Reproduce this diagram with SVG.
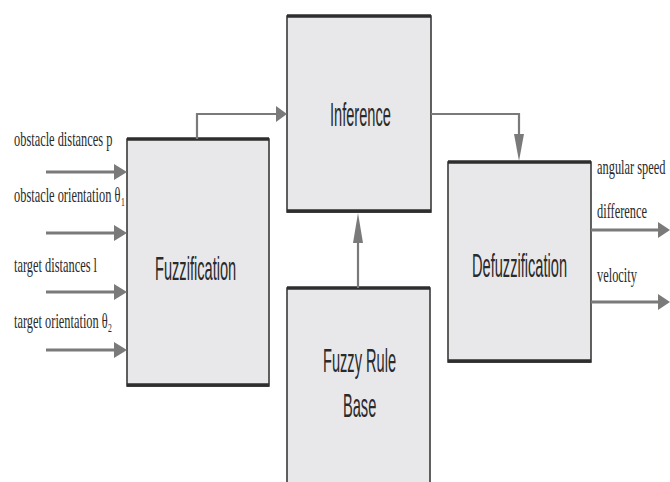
<svg xmlns="http://www.w3.org/2000/svg" width="670" height="482" viewBox="0 0 670 482">
<defs>
<style>
.box{fill:#e8e8ea;stroke:#3a3a3a;stroke-width:1.6}
.edge{stroke:#2e2e2e;stroke-width:3.5}
.lbl{font-family:"Liberation Sans",Arial,sans-serif;font-size:34px;fill:#2a2a2a}
.io{font-family:"Liberation Serif","Times New Roman",serif;font-size:21px;fill:#2a2a2a}
.sub{font-family:"Liberation Serif","Times New Roman",serif;font-size:13px;fill:#2a2a2a}
.wire{stroke:#7a7a7a;fill:none}
.head{fill:#7a7a7a}
</style>
</defs>
<rect width="670" height="482" fill="#ffffff"/>
<g id="fuzzification">
<rect class="box" x="127" y="139" width="142" height="247"/>
<line class="edge" x1="127" y1="139" x2="269" y2="139"/>
<line class="edge" x1="127" y1="385" x2="269" y2="385"/>
<text class="lbl" transform="translate(155,280) scale(0.43,1)">Fuzzification</text>
</g>
<g id="inference">
<rect class="box" x="287" y="16" width="144" height="196"/>
<line class="edge" x1="287" y1="16" x2="431" y2="16"/>
<line class="edge" x1="287" y1="211" x2="431" y2="211"/>
<text class="lbl" transform="translate(330,126) scale(0.43,1)">Inference</text>
</g>
<g id="rulebase">
<rect class="box" x="287" y="288" width="143" height="200"/>
<line class="edge" x1="287" y1="288" x2="430" y2="288"/>
<text class="lbl" transform="translate(323,372) scale(0.43,1)">Fuzzy Rule</text>
<text class="lbl" transform="translate(343,417) scale(0.43,1)">Base</text>
</g>
<g id="defuzzification">
<rect class="box" x="448" y="162" width="143" height="200"/>
<line class="edge" x1="448" y1="162" x2="591" y2="162"/>
<line class="edge" x1="448" y1="361" x2="591" y2="361"/>
<text class="lbl" transform="translate(472,277) scale(0.43,1)">Defuzzification</text>
</g>
<g id="connectors">
<g stroke-width="3">
<line class="wire" x1="46" y1="172" x2="116" y2="172"/>
<line class="wire" x1="46" y1="233" x2="116" y2="233"/>
<line class="wire" x1="46" y1="292" x2="116" y2="292"/>
<line class="wire" x1="46" y1="350" x2="116" y2="350"/>
<line class="wire" x1="591" y1="230" x2="660" y2="230"/>
<line class="wire" x1="591" y1="302" x2="660" y2="302"/>
</g>
<polygon class="head" points="114,164 127,172 114,180"/>
<polygon class="head" points="114,225 127,233 114,241"/>
<polygon class="head" points="114,284 127,292 114,300"/>
<polygon class="head" points="114,342 127,350 114,358"/>
<polygon class="head" points="658,222 670,230 658,238"/>
<polygon class="head" points="658,294 670,302 658,310"/>
<polyline class="wire" stroke-width="2.2" points="197,139 197,114 278,114"/>
<polygon class="head" points="276,106 287,114 276,122"/>
<polyline class="wire" stroke-width="2.2" points="431,114 519,114 519,136"/>
<polygon class="head" points="514,134 519,161 524,134"/>
<line class="wire" stroke-width="2.2" x1="358" y1="288" x2="358" y2="240"/>
<polygon class="head" points="353,243 358,213 363,243"/>
</g>
<g id="labels">
<text class="io" transform="translate(14,146) scale(0.59,1)">obstacle distances p</text>
<text class="io" transform="translate(14,202) scale(0.59,1)">obstacle orientation θ</text>
<text class="sub" transform="translate(121,206) scale(0.59,1)">1</text>
<text class="io" transform="translate(14,272) scale(0.59,1)">target distances l</text>
<text class="io" transform="translate(14,328) scale(0.59,1)">target orientation θ</text>
<text class="sub" transform="translate(108,332) scale(0.59,1)">2</text>
<text class="io" transform="translate(597,174) scale(0.59,1)">angular speed</text>
<text class="io" transform="translate(597,218) scale(0.59,1)">difference</text>
<text class="io" transform="translate(597,282) scale(0.59,1)">velocity</text>
</g>
</svg>
